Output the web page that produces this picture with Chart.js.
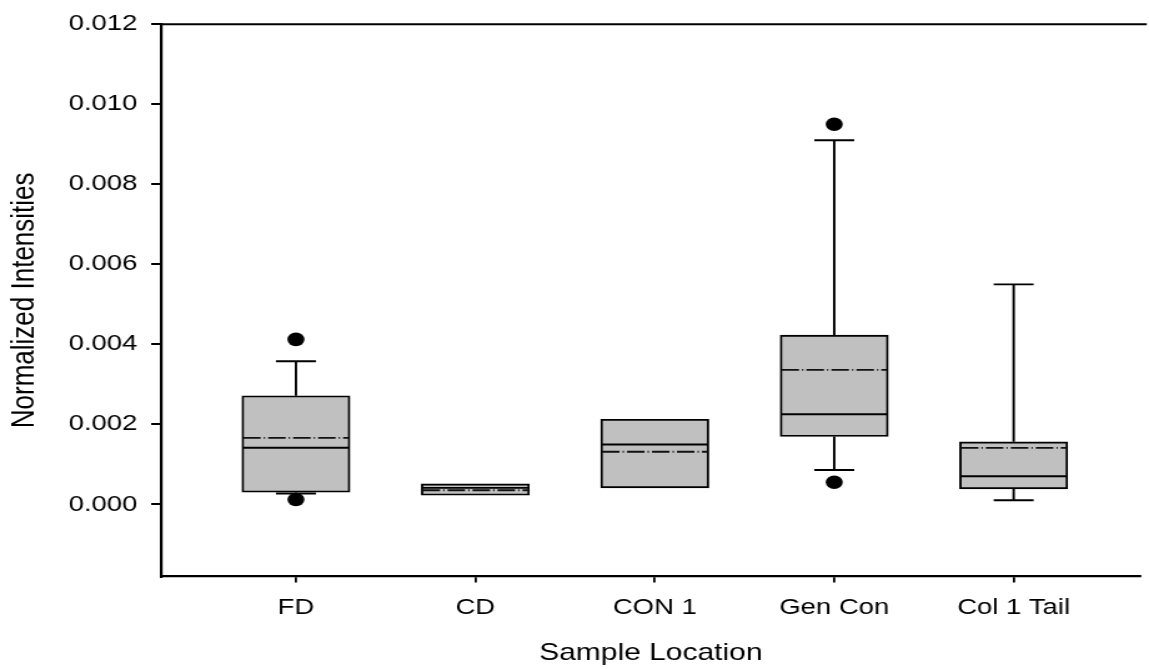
<!DOCTYPE html>
<html><head><meta charset="utf-8">
<script src="https://cdn.jsdelivr.net/npm/chart.js@4.4.1/dist/chart.umd.min.js"></script>
<style>
html,body{margin:0;padding:0;background:#fff;overflow:hidden;}
#wrap{width:920px;height:669px;transform:scaleX(1.248913);transform-origin:0 0;}
canvas{display:block;}
</style></head><body>
<div id="wrap"><canvas id="c" width="920" height="669"></canvas></div>
<script>
// ---- data ----
const categories = ['FD', 'CD', 'CON 1', 'Gen Con', 'Col 1 Tail'];
const q1Values = [0.000306, 0.000231, 0.000415, 0.001697, 0.000390];
const q3Values = [0.002716, 0.000514, 0.002130, 0.004231, 0.001565];
const medianValues = [0.001416, 0.000415, 0.001500, 0.002253, 0.000704];
const meanValues = [0.001665, 0.000355, 0.001317, 0.003362, 0.001416];
const whiskerLow = [0.000273, null, null, 0.000862, 0.000107];
const whiskerHigh = [0.003578, null, null, 0.009100, 0.005500];
const outliers = [[0.004124, 0.000124], [], [], [0.009500, 0.000555], []];
const yTickValues = [0.000, 0.002, 0.004, 0.006, 0.008, 0.010, 0.012];

// ---- style ----
const FONT = '"Liberation Sans", Arial, Helvetica, sans-serif';
const INK = '#000';
const CAP_HALF = 16;
const LW = 1.9;

const boxData = categories.map((c, i) => ({x: i + 1, y: [q1Values[i], q3Values[i]]}));
const outlierData = [];
outliers.forEach((arr, i) => arr.forEach(v => outlierData.push({x: i + 1, y: v})));

const boxPlugin = {
  id: 'boxExtras',
  beforeDatasetsDraw(chart) {
    const {ctx, scales: {x, y}} = chart;
    ctx.save();
    ctx.strokeStyle = INK;
    ctx.lineWidth = LW;
    categories.forEach((c, i) => {
      const px = x.getPixelForValue(i + 1);
      if (whiskerHigh[i] != null) {
        const yt = y.getPixelForValue(whiskerHigh[i]);
        ctx.beginPath();
        ctx.moveTo(px, y.getPixelForValue(q3Values[i]));
        ctx.lineTo(px, yt);
        ctx.moveTo(px - CAP_HALF, yt);
        ctx.lineTo(px + CAP_HALF, yt);
        ctx.stroke();
      }
      if (whiskerLow[i] != null) {
        const yb = y.getPixelForValue(whiskerLow[i]);
        ctx.beginPath();
        ctx.moveTo(px, y.getPixelForValue(q1Values[i]));
        ctx.lineTo(px, yb);
        ctx.moveTo(px - CAP_HALF, yb);
        ctx.lineTo(px + CAP_HALF, yb);
        ctx.stroke();
      }
    });
    ctx.restore();
  },
  afterDatasetsDraw(chart) {
    const {ctx, scales: {x, y}} = chart;
    const meta = chart.getDatasetMeta(0);
    ctx.save();
    categories.forEach((c, i) => {
      const bar = meta.data[i];
      const half = bar.width / 2 - 1;
      const px = bar.x;
      const ym = y.getPixelForValue(medianValues[i]);
      ctx.strokeStyle = INK;
      ctx.lineWidth = LW;
      ctx.setLineDash([]);
      ctx.beginPath();
      ctx.moveTo(px - half, ym);
      ctx.lineTo(px + half, ym);
      ctx.stroke();
      const ya = y.getPixelForValue(meanValues[i]);
      ctx.strokeStyle = '#111';
      ctx.lineWidth = 1.8;
      ctx.setLineDash([14, 2.5, 1, 2.5]);
      ctx.beginPath();
      ctx.moveTo(px - half, ya);
      ctx.lineTo(px + half, ya);
      ctx.stroke();
    });
    ctx.restore();
  },
  afterDraw(chart) {
    const {ctx, chartArea} = chart;
    ctx.save();
    ctx.strokeStyle = INK;
    ctx.lineWidth = 2;
    ctx.beginPath();
    ctx.moveTo(chartArea.left - 1, chartArea.top);
    ctx.lineTo(chartArea.right + 5, chartArea.top);
    ctx.stroke();
    ctx.restore();
  }
};

new Chart(document.getElementById('c'), {
  type: 'bar',
  data: {
    datasets: [
      {
        type: 'bar',
        data: boxData,
        backgroundColor: '#c0c0c0',
        borderColor: INK,
        borderWidth: LW,
        borderSkipped: false,
        barThickness: 86.5,
        order: 2
      },
      {
        type: 'scatter',
        data: outlierData,
        backgroundColor: INK,
        borderColor: INK,
        pointRadius: 6.8,
        pointBorderWidth: 0,
        order: 1
      }
    ]
  },
  options: {
    responsive: false,
    animation: false,
    devicePixelRatio: 1,
    layout: {padding: {top: 20.5, right: 0, left: 0, bottom: 0}},
    plugins: {legend: {display: false}, tooltip: {enabled: false}},
    scales: {
      x: {
        type: 'linear',
        offset: false,
        min: 0.2486,
        max: 5.707,
        afterBuildTicks: (s) => { s.ticks = categories.map((c, i) => ({value: i + 1})); },
        afterFit: (s) => { s.height = 92.5; },
        ticks: {
          autoSkip: false,
          maxRotation: 0,
          padding: 12,
          color: INK,
          font: {family: FONT, size: 22},
          callback: (v) => categories[v - 1]
        },
        grid: {offset: false, drawOnChartArea: false, drawTicks: true, tickLength: 6, color: INK, lineWidth: 1.8},
        border: {display: true, color: INK, width: 2.2},
        title: {display: true, text: 'Sample Location', color: INK, font: {family: FONT, size: 24}, padding: {top: 0, bottom: 1}}
      },
      y: {
        type: 'linear',
        min: -0.0018,
        max: 0.012,
        afterBuildTicks: (s) => { s.ticks = yTickValues.map(v => ({value: v})); },
        afterFit: (s) => { s.width = 129; },
        ticks: {
          padding: 11,
          color: INK,
          font: {family: FONT, size: 22},
          callback: (v) => v.toFixed(3)
        },
        grid: {drawOnChartArea: false, drawTicks: true, tickLength: 8, color: INK, lineWidth: 2},
        border: {display: true, color: INK, width: 2.2},
        title: {display: true, text: 'Normalized Intensities', color: INK, font: {family: FONT, size: 26}, padding: {top: 4, bottom: 0}}
      }
    }
  },
  plugins: [boxPlugin]
});
</script>
</body></html>
